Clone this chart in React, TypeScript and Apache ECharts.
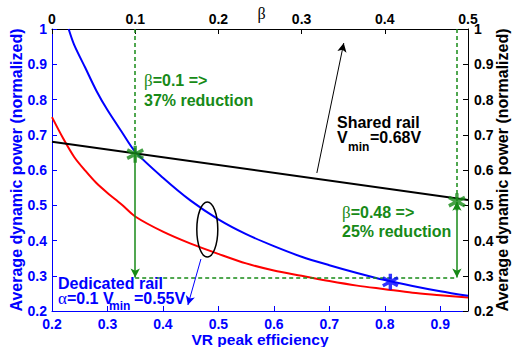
import React, { useEffect, useRef } from 'react';
import * as echarts from 'echarts';

// VR peak efficiency (x) vs normalized average dynamic power (y)
const blueX = [0.23, 0.24, 0.26, 0.28, 0.3, 0.325, 0.35, 0.4, 0.45, 0.5, 0.55, 0.6, 0.65, 0.7, 0.75, 0.8, 0.85, 0.9, 0.95];
const blueY = [1.0, 0.955, 0.89, 0.825, 0.77, 0.71, 0.652, 0.578, 0.513, 0.46, 0.418, 0.384, 0.354, 0.33, 0.308, 0.288, 0.271, 0.256, 0.243];
const redX = [0.2, 0.22, 0.24, 0.26, 0.28, 0.3, 0.325, 0.35, 0.4, 0.45, 0.5, 0.55, 0.6, 0.65, 0.7, 0.75, 0.8, 0.85, 0.9, 0.95];
const redY = [0.75, 0.69, 0.637, 0.598, 0.563, 0.535, 0.503, 0.468, 0.425, 0.391, 0.362, 0.335, 0.315, 0.3, 0.285, 0.272, 0.262, 0.252, 0.245, 0.238];
const sharedX = [0.2, 0.95];
const sharedY = [0.68, 0.515];
const greenStars = [[0.35, 0.645], [0.93, 0.51]];
const blueStars = [[0.81, 0.283]];
const targetY = 0.295;
const xTicksBottom = { min: 0.2, max: 0.95, interval: 0.1 };
const xTicksTop = { min: 0, max: 0.5, interval: 0.1 };
const yTicks = { min: 0.2, max: 1, interval: 0.1 };

const GREEN = '#178a17';
const BLUE = '#0000ff';
const SANS = 'Liberation Sans, Arial, sans-serif';
const SERIF = 'Liberation Serif, Times New Roman, serif';
const STAR = 'path://M10,0 L10,20 M1.34,5 L18.66,15 M1.34,15 L18.66,5';

export default function App() {
  const ref = useRef<HTMLDivElement>(null);
  useEffect(() => {
    const chart = echarts.init(ref.current!, null, { renderer: 'svg' });
    const axisCommon = (color: string) => ({
      axisLine: { show: true, lineStyle: { color, width: 1 } },
      axisTick: { show: true, inside: true, length: 5, lineStyle: { color } },
      splitLine: { show: false },
      nameMoveOverlap: false,
    });
    const pair = (a: number[], b: number[], style: any, s0 = 'none', s1 = 'none') => [
      { coord: a, symbol: s0, lineStyle: style },
      { coord: b, symbol: s1 },
    ];
    const dashed = { color: GREEN, width: 1.5, type: [4, 3] };
    const solidG = { color: GREEN, width: 1.5, type: 'solid' };
    chart.setOption({
      animation: false,
      grid: { left: 52, right: 45, top: 29, bottom: 36, containLabel: false, outerBoundsMode: 'none' },
      xAxis: [
        {
          type: 'value', position: 'bottom', ...xTicksBottom,
          ...axisCommon(BLUE),
          axisLabel: { color: BLUE, fontFamily: SANS, fontWeight: 'bold', fontSize: 14, margin: 6, showMaxLabel: false },
          name: 'VR peak efficiency', nameLocation: 'middle', nameGap: 20,
          nameTextStyle: { color: BLUE, fontFamily: SANS, fontWeight: 'bold', fontSize: 15.5 },
        },
        {
          type: 'value', position: 'top', ...xTicksTop,
          ...axisCommon('#000'),
          axisLabel: { color: '#000', fontFamily: SANS, fontWeight: 'bold', fontSize: 14, margin: 3 },
          name: 'β', nameLocation: 'middle', nameGap: 8,
          nameTextStyle: { color: '#000', fontFamily: SERIF, fontSize: 16, padding: [0, 0, 0, 3] },
        },
      ],
      yAxis: [
        {
          type: 'value', position: 'left', ...yTicks,
          ...axisCommon(BLUE),
          axisLabel: { color: BLUE, fontFamily: SANS, fontWeight: 'bold', fontSize: 14, margin: 5 },
          name: 'Average dynamic power (normalized)', nameLocation: 'middle', nameGap: 28,
          nameTextStyle: { color: BLUE, fontFamily: SANS, fontWeight: 'bold', fontSize: 16 },
        },
        {
          type: 'value', position: 'right', ...yTicks,
          ...axisCommon('#000'),
          axisLabel: { color: '#000', fontFamily: SANS, fontWeight: 'bold', fontSize: 14, margin: 6 },
          name: 'Average dynamic power (normalized)', nameLocation: 'middle', nameGap: 26,
          nameTextStyle: { color: '#000', fontFamily: SANS, fontWeight: 'bold', fontSize: 16 },
        },
      ],
      series: [
        {
          type: 'line', name: 'dedicated-red', data: redX.map((x, i) => [x, redY[i]]),
          showSymbol: false, smooth: 0.3, lineStyle: { color: '#ff0000', width: 2 }, z: 2,
        },
        {
          type: 'line', name: 'dedicated-blue', data: blueX.map((x, i) => [x, blueY[i]]),
          showSymbol: false, smooth: 0.3, lineStyle: { color: BLUE, width: 2 }, z: 3,
        },
        {
          type: 'line', name: 'shared', data: sharedX.map((x, i) => [x, sharedY[i]]),
          showSymbol: false, lineStyle: { color: '#000', width: 2 }, z: 3,
          markLine: {
            silent: true, animation: false, symbolSize: [7, 9],
            label: { show: false },
            data: [
              pair([greenStars[0][0], 1], greenStars[0], dashed),
              pair(greenStars[0], [greenStars[0][0], targetY], solidG, 'none', 'arrow'),
              pair([greenStars[0][0], targetY], [greenStars[1][0], targetY], dashed),
              pair([greenStars[1][0], 1], greenStars[1], dashed),
              pair(greenStars[1], [greenStars[1][0], targetY], solidG, 'arrow', 'arrow'),
              pair([0.6775, 0.5915], [0.726, 0.96], { color: '#000', width: 1, type: 'solid' }, 'none', 'arrow'),
              pair([0.4685, 0.3475], [0.445, 0.217], { color: BLUE, width: 1, type: 'solid' }, 'none', 'arrow'),
            ],
          },
        },
        {
          type: 'scatter', data: greenStars, symbol: STAR, symbolSize: [16, 17], z: 5,
          itemStyle: { color: GREEN, borderColor: GREEN, borderWidth: 3.5 },
        },
        {
          type: 'scatter', data: blueStars, symbol: STAR, symbolSize: [15, 16], z: 5,
          itemStyle: { color: BLUE, borderColor: BLUE, borderWidth: 3.5 },
        },
      ],
    });

    const c = chart.convertToPixel({ seriesIndex: 0 }, [0.48, 0.431]) as number[];
    const t = (x: number, y: number, text: string, color: string, size = 16) => ({
      type: 'text', x, y, z: 10,
      style: { text, fill: color, font: `bold ${size}px ${SANS}`, align: 'left', verticalAlign: 'middle' },
    });
    const rt = (x: number, y: number, sym: string, rest: string, color: string) => ({
      type: 'text', x, y, z: 10,
      style: {
        text: `{g|${sym}}{b|${rest}}`, fill: color, align: 'left', verticalAlign: 'middle',
        rich: {
          g: { fontFamily: SERIF, fontSize: 17, fill: color },
          b: { fontFamily: SANS, fontWeight: 'bold', fontSize: 16, fill: color },
        },
      },
    });
    chart.setOption({
      graphic: [
        {
          type: 'ellipse', z: 10,
          shape: { cx: c[0], cy: c[1], rx: 10.5, ry: 27.5 },
          style: { fill: 'none', stroke: '#000', lineWidth: 1.5 },
        },
        rt(144, 80, 'β', '=0.1 =>', GREEN),
        t(144, 100, '37% reduction', GREEN),
        rt(342, 212, 'β', '=0.48 =>', GREEN),
        t(342, 231, '25% reduction', GREEN),
        t(337, 122, 'Shared rail', '#000'),
        t(337, 137, 'V', '#000'),
        t(348, 147, 'min', '#000', 12),
        t(370, 137, '=0.68V', '#000'),
        t(58, 283, 'Dedicated rail', BLUE),
        rt(58, 298, 'α', '=0.1 V', BLUE),
        t(109, 306, 'min', BLUE, 12),
        t(134, 298, '=0.55V', BLUE),
      ],
    });
    return () => chart.dispose();
  }, []);
  return <div ref={ref} style={{ position: 'absolute', left: 0, top: 0, width: 513, height: 347 }} />;
}
